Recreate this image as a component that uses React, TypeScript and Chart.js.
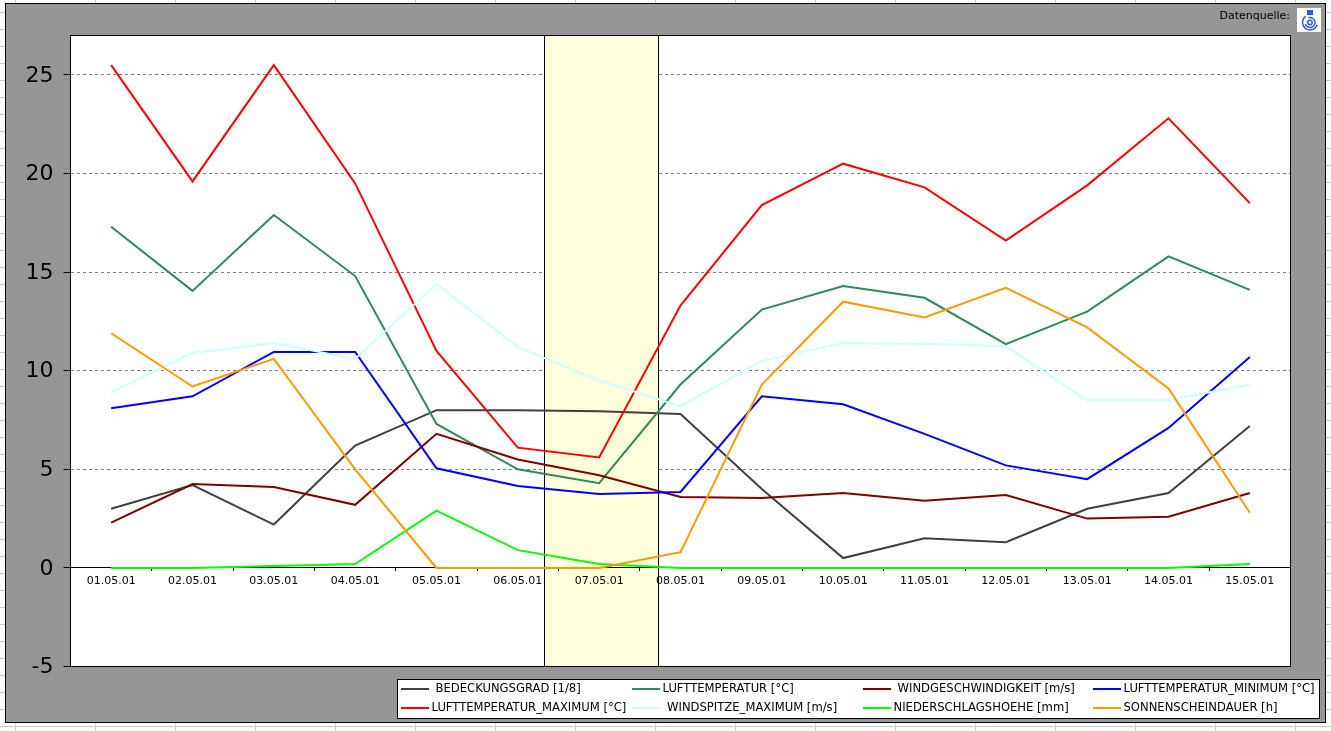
import React, { useEffect, useRef } from "react";
import { Chart, registerables } from "chart.js";

Chart.register(...registerables);

const categories = ["01.05.01","02.05.01","03.05.01","04.05.01","05.05.01","06.05.01","07.05.01","08.05.01","09.05.01","10.05.01","11.05.01","12.05.01","13.05.01","14.05.01","15.05.01"];
const bedeckung = [3.0,4.2,2.2,6.2,8.0,8.0,7.95,7.8,4.0,0.5,1.5,1.3,3.0,3.8,7.2];
const lufttemp = [17.3,14.05,17.9,14.8,7.3,5.0,4.3,9.3,13.1,14.3,13.7,11.35,13.0,15.8,14.1];
const wind = [2.3,4.25,4.1,3.2,6.8,5.5,4.7,3.6,3.55,3.8,3.4,3.7,2.5,2.6,3.8];
const tempMin = [8.1,8.7,10.95,10.95,5.05,4.15,3.75,3.85,8.7,8.3,6.8,5.2,4.5,7.1,10.7];
const tempMax = [25.5,19.6,25.5,19.5,11.0,6.1,5.6,13.3,18.4,20.5,19.3,16.6,19.4,22.8,18.5];
const windspitze = [8.9,10.9,11.4,10.6,14.4,11.2,9.5,8.2,10.5,11.4,11.35,11.25,8.5,8.5,9.3];
const niederschlag = [0,0,0.1,0.2,2.9,0.9,0.2,0,0,0,0,0,0,0,0.2];
const sonne = [11.9,9.2,10.6,5.0,0,0,0,0.8,9.3,13.5,12.7,14.2,12.2,9.1,2.8];
const seriesLabels = ["BEDECKUNGSGRAD [1/8]","LUFTTEMPERATUR [°C]","WINDGESCHWINDIGKEIT [m/s]","LUFTTEMPERATUR_MINIMUM [°C]","LUFTTEMPERATUR_MAXIMUM [°C]","WINDSPITZE_MAXIMUM [m/s]","NIEDERSCHLAGSHOEHE [mm]","SONNENSCHEINDAUER [h]"];
const seriesValues = [bedeckung,lufttemp,wind,tempMin,tempMax,windspitze,niederschlag,sonne];
const seriesColors = ["#404040","#2E8B57","#800000","#0000FF","#FF0000","#CCFFFF","#00FF00","#FF9900"];
const bandRange = [5.32, 6.72];
const FONT = '"DejaVu Sans", Verdana, sans-serif';

const legendSlots = [
  { line: 401, text: 435.5, y: 689 },
  { line: 632, text: 662.5, y: 689 },
  { line: 863, text: 897.5, y: 689 },
  { line: 1093, text: 1123.5, y: 689 },
  { line: 401, text: 431.5, y: 708 },
  { line: 632, text: 667, y: 708 },
  { line: 863, text: 893.5, y: 708 },
  { line: 1093, text: 1123.5, y: 708 },
];

const framePlugin = {
  id: "frame",
  beforeDraw(chart: any) {
    const { ctx, chartArea: a, width, height } = chart;
    ctx.save();
    ctx.fillStyle = "#ffffff";
    ctx.fillRect(0, 0, width, height);
    ctx.strokeStyle = "#c8c8c8";
    ctx.lineWidth = 1;
    ctx.beginPath();
    for (let x = 15.5; x < width; x += 80) { ctx.moveTo(x, 0); ctx.lineTo(x, height); }
    for (let y = 12.5; y < height; y += 17) { ctx.moveTo(0, y); ctx.lineTo(width, y); }
    ctx.stroke();
    ctx.fillStyle = "#969696";
    ctx.fillRect(5.5, 3.5, 1320, 719);
    ctx.strokeStyle = "#000000";
    ctx.strokeRect(5.5, 3.5, 1320, 719);
    ctx.fillStyle = "#ffffff";
    ctx.fillRect(a.left, a.top, a.right - a.left, a.bottom - a.top);
    ctx.restore();
  },
  beforeDatasetsDraw(chart: any) {
    const { ctx, chartArea: a, scales } = chart;
    const x0 = Math.round(scales.x.getPixelForValue(bandRange[0])) + 0.5;
    const x1 = Math.round(scales.x.getPixelForValue(bandRange[1])) + 0.5;
    ctx.save();
    ctx.fillStyle = "#FFFFDC";
    ctx.fillRect(x0, a.top, x1 - x0, a.bottom - a.top);
    ctx.beginPath();
    ctx.rect(x0, a.top, x1 - x0, a.bottom - a.top);
    ctx.clip();
    scales.x.draw(a);
    ctx.restore();
    ctx.save();
    ctx.strokeStyle = "#000000";
    ctx.lineWidth = 1;
    ctx.beginPath();
    ctx.moveTo(x0, a.top); ctx.lineTo(x0, a.bottom);
    ctx.moveTo(x1, a.top); ctx.lineTo(x1, a.bottom);
    ctx.stroke();
    ctx.restore();
  },
  afterDraw(chart: any) {
    const { ctx, chartArea: a } = chart;
    ctx.save();
    ctx.strokeStyle = "#000000";
    ctx.lineWidth = 1;
    ctx.strokeRect(a.left, a.top, a.right - a.left, a.bottom - a.top);
    // source label and logo
    ctx.font = `11px ${FONT}`;
    ctx.fillStyle = "#000000";
    ctx.textAlign = "right";
    ctx.textBaseline = "middle";
    ctx.fillText("Datenquelle:", 1290, 16);
    ctx.fillStyle = "#ffffff";
    ctx.fillRect(1297, 8, 24, 24);
    ctx.strokeStyle = "#2A5BE0";
    ctx.lineWidth = 1.5;
    ctx.beginPath();
    ctx.arc(1310, 22.5, 7.5, Math.PI * 0.1, Math.PI * 1.3);
    ctx.stroke();
    ctx.beginPath();
    ctx.arc(1310, 22.5, 5, Math.PI * 1.4, Math.PI * 2.9);
    ctx.stroke();
    ctx.beginPath();
    ctx.arc(1310, 22.5, 2.2, 0, Math.PI * 2);
    ctx.stroke();
    ctx.fillStyle = "#2A5BE0";
    ctx.fillRect(1307, 10, 6, 5);
    // legend
    ctx.fillStyle = "#ffffff";
    ctx.fillRect(397.5, 679.5, 922, 39);
    ctx.strokeStyle = "#000000";
    ctx.lineWidth = 1;
    ctx.strokeRect(397.5, 679.5, 922, 39);
    ctx.textAlign = "left";
    ctx.font = `11.6px ${FONT}`;
    chart.data.datasets.forEach((ds: any, i: number) => {
      const s = legendSlots[i];
      ctx.strokeStyle = ds.borderColor;
      ctx.lineWidth = 2;
      ctx.beginPath();
      ctx.moveTo(s.line, s.y);
      ctx.lineTo(s.line + 28, s.y);
      ctx.stroke();
      ctx.fillStyle = "#000000";
      ctx.fillText(ds.label, s.text, s.y);
    });
    ctx.restore();
  },
};

export default function App() {
  const ref = useRef<HTMLCanvasElement>(null);
  useEffect(() => {
    document.body.style.margin = "0";
    const chart = new Chart(ref.current as any, {
      type: "line",
      data: {
        labels: categories,
        datasets: seriesValues.map((data, i) => ({
          label: seriesLabels[i],
          data,
          borderColor: seriesColors[i],
          backgroundColor: seriesColors[i],
          borderWidth: 2,
          pointRadius: 0,
          tension: 0,
          order: seriesValues.length - i,
        })),
      },
      options: {
        animation: false,
        responsive: false,
        devicePixelRatio: 1,
        layout: { padding: { left: 6.5, right: 40.5, top: 35.5, bottom: 64.5 } },
        plugins: { legend: { display: false }, tooltip: { enabled: false } },
        scales: {
          x: {
            type: "category",
            position: { y: 0 },
            offset: true,
            border: { color: "#000000", width: 1 },
            grid: { drawOnChartArea: false, tickLength: 3, tickColor: "#000000", offset: true },
            ticks: { color: "#000000", font: { family: FONT, size: 11 }, maxRotation: 0, minRotation: 0, autoSkip: false, padding: 4 },
          },
          y: {
            min: -5,
            max: 27,
            afterFit(s: any) { s.width = 64; },
            afterBuildTicks(s: any) { s.ticks = s.ticks.filter((t: any) => t.value % 5 === 0); },
            border: { display: false, dash: [3, 3] },
            grid: {
              color: (c: any) => (c.tick && c.tick.value > 0 ? "#808080" : "rgba(0,0,0,0)"),
              tickColor: "#000000",
              tickLength: 7,
              tickBorderDash: [],
            },
            ticks: { stepSize: 5, color: "#000000", font: { family: FONT, size: 22 }, padding: 10, labelOffset: 1 },
          },
        },
      } as any,
      plugins: [framePlugin as any],
    });
    return () => chart.destroy();
  }, []);
  return <canvas ref={ref} width={1331} height={731} style={{ display: "block", width: 1331, height: 731 }} />;
}
